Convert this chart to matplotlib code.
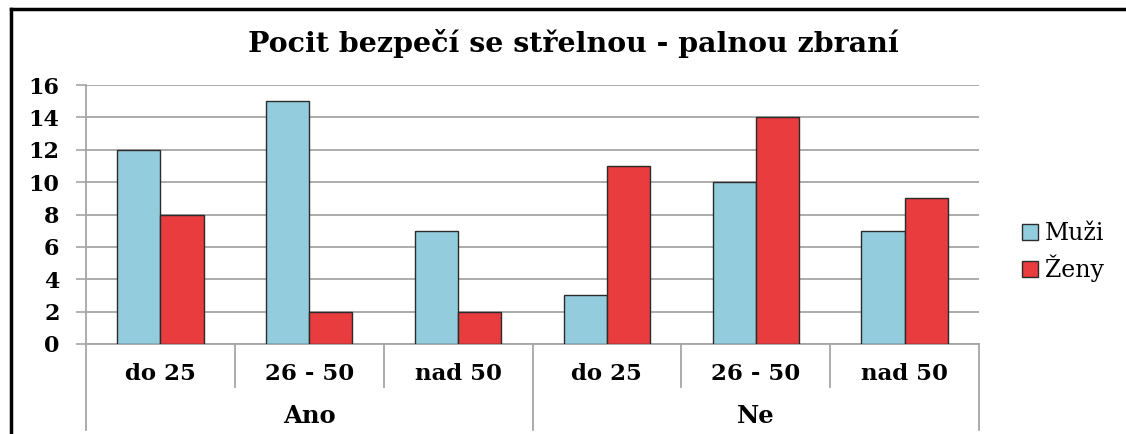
import matplotlib
matplotlib.use("Agg")
import matplotlib.pyplot as plt
from matplotlib.lines import Line2D
from matplotlib.patches import Patch
import numpy as np

title = "Pocit bezpečí se střelnou - palnou zbraní"
groups = ["Ano", "Ne"]
age_labels = ["do 25", "26 - 50", "nad 50"]
categories = [(g, a) for g in groups for a in age_labels]
muzi = [12, 15, 7, 3, 10, 7]
zeny = [8, 2, 2, 11, 14, 9]
series_names = ["Muži", "Ženy"]
yticks = [0, 2, 4, 6, 8, 10, 12, 14, 16]

blue = "#93CDDD"
red = "#E83C3E"
grid_c = "#A6A6A6"
serif = ["DejaVu Serif", "Liberation Serif"]

W, H = 1126, 434
fig = plt.figure(figsize=(W / 100, H / 100), dpi=100)
fig.patch.set_facecolor("white")

x0, x1 = 86, 979
y_top, y_zero = 85, 344
ax = fig.add_axes([x0 / W, (H - y_zero) / H, (x1 - x0) / W, (y_zero - y_top) / H])

n = len(categories)
x = np.arange(n)
bw = 0.29
ax.bar(x - bw / 2, muzi, bw, color=blue, edgecolor="#2b2b2b", linewidth=1.0, zorder=3, label=series_names[0])
ax.bar(x + bw / 2, zeny, bw, color=red, edgecolor="#2b2b2b", linewidth=1.0, zorder=3, label=series_names[1])

ax.set_xlim(-0.5, n - 0.5)
ax.set_ylim(0, 16)
ax.set_yticks(yticks)
ax.set_yticklabels([str(v) for v in yticks], fontfamily=serif, fontweight="bold", fontsize=16)
ax.tick_params(axis="y", length=7, width=1.2, color=grid_c, pad=12)
ax.yaxis.grid(True, color=grid_c, linewidth=1.3, zorder=0)
ax.set_xticks([])
for s in ["top", "right"]:
    ax.spines[s].set_visible(False)
ax.spines["left"].set_color(grid_c)
ax.spines["left"].set_linewidth(1.3)
ax.spines["bottom"].set_color(grid_c)
ax.spines["bottom"].set_linewidth(1.3)

# multi-level x axis
ph = y_zero - y_top
def fy(px):  # pixel offset below zero -> axes fraction
    return -px / ph

for i, (g, a) in enumerate(categories):
    ax.text(x[i], fy(374 - y_zero), a, transform=ax.get_xaxis_transform(),
            ha="center", va="center", fontfamily=serif, fontweight="bold", fontsize=16.5)
for k in range(1, n):
    if k % 3 == 0:
        continue
    ax.plot([k - 0.5, k - 0.5], [0, fy(387 - y_zero)], transform=ax.get_xaxis_transform(),
            color=grid_c, linewidth=1.3, clip_on=False)
for k in [0, 3, 6]:
    ax.plot([k - 0.5, k - 0.5], [0, fy(430 - y_zero)], transform=ax.get_xaxis_transform(),
            color=grid_c, linewidth=1.3, clip_on=False)
for gi, g in enumerate(groups):
    ax.text(gi * 3 + 1, fy(416 - y_zero), g, transform=ax.get_xaxis_transform(),
            ha="center", va="center", fontfamily=serif, fontweight="bold", fontsize=17.5)

fig.text(0.5 * (248 + 899) / W, 1 - 43 / H, title, ha="center", va="center",
         fontfamily=serif, fontweight="bold", fontsize=20.5)

handles = [Patch(facecolor=blue, edgecolor="#2b2b2b", linewidth=1.0),
           Patch(facecolor=red, edgecolor="#2b2b2b", linewidth=1.0)]
fig.legend(handles, series_names, loc="center left", bbox_to_anchor=(1001 / W, 1 - 252 / H),
           frameon=False, prop={"family": serif, "size": 17}, handlelength=0.65,
           handleheight=0.65, handletextpad=0.3, labelspacing=0.4)

# outer black frame (top and left)
fig.add_artist(Line2D([11 / W, 1], [1 - 9 / H, 1 - 9 / H], color="black", linewidth=2.5, transform=fig.transFigure))
fig.add_artist(Line2D([11 / W, 11 / W], [0, 1 - 9 / H], color="black", linewidth=2.5, transform=fig.transFigure))

fig.savefig("out.png", dpi=100, facecolor="white")
